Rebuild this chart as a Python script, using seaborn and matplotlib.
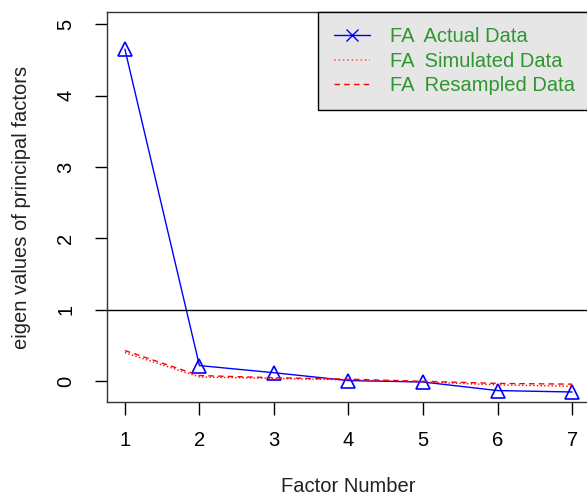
import pandas
import seaborn as sns
import matplotlib.pyplot as plt
from matplotlib.lines import Line2D

# Values.
factor_number = [1, 2, 3, 4, 5, 6, 7]
fa_actual = [4.65, 0.22, 0.12, 0.01, -0.01, -0.13, -0.15]
fa_simulated = [0.40, 0.06, 0.04, 0.02, -0.01, -0.05, -0.07]
fa_resampled = [0.43, 0.08, 0.05, 0.03, 0.00, -0.03, -0.04]
legend_labels = ['FA  Actual Data', 'FA  Simulated Data', 'FA  Resampled Data']

df = pandas.DataFrame({
    'factor': factor_number,
    'actual': fa_actual,
    'simulated': fa_simulated,
    'resampled': fa_resampled
})

sns.set_theme(style = 'white')
plt.rcParams['font.family'] = ['Liberation Sans', 'DejaVu Sans']
plt.rcParams.update({
    'axes.edgecolor': 'black',
    'xtick.color': 'black',
    'ytick.color': 'black',
    'text.color': 'black',
    'axes.labelcolor': '#222222'
})

fig = plt.figure(figsize = (5.87, 4.99), dpi = 100)
ax = fig.add_axes([107 / 587, 1 - 402 / 499, 483 / 587, 390 / 499])

# Actual eigen values with open triangles.
sns.lineplot(
    data = df, x = 'factor', y = 'actual', ax = ax,
    color = 'blue', linewidth = 1, marker = '^', markersize = 10,
    markerfacecolor = 'none', markeredgecolor = 'blue', markeredgewidth = 1.2
)
sns.lineplot(data = df, x = 'factor', y = 'simulated', ax = ax,
             color = 'red', linewidth = 1, linestyle = ':')
sns.lineplot(data = df, x = 'factor', y = 'resampled', ax = ax,
             color = 'red', linewidth = 1, linestyle = (0, (4, 3)))

ax.axhline(1, color = 'black', linewidth = 1)

ax.set_xlim(0.76, 7.24)
ax.set_ylim(-0.29, 5.17)
ax.set_xticks(factor_number)
ax.set_yticks([0, 1, 2, 3, 4, 5])
ax.tick_params(axis = 'both', direction = 'out', length = 9, width = 1,
               labelsize = 14.5, left = True, bottom = True)
ax.tick_params(axis = 'x', pad = 12)
ax.tick_params(axis = 'y', pad = 14)
for label in ax.get_yticklabels():
    label.set_rotation(90)
    label.set_va('center')
for spine in ax.spines.values():
    spine.set_linewidth(1)
    spine.set_color('#333333')

ax.set_xlabel('Factor Number', fontsize = 14.5, labelpad = 19)
ax.set_ylabel('eigen values of principal factors', fontsize = 14.5, labelpad = 18)

# Legend built the way R draws it: marker 'x' for the actual data.
handles = [
    Line2D([], [], color = 'blue', linewidth = 1, marker = 'x', markersize = 8),
    Line2D([], [], color = '#ff6666', linewidth = 1.2, linestyle = ':'),
    Line2D([], [], color = 'red', linewidth = 1, linestyle = (0, (4, 3)))
]
leg = ax.legend(
    handles, legend_labels, loc = 'upper right', bbox_to_anchor = (1, 1),
    borderaxespad = 0, fontsize = 14.5, frameon = True, fancybox = False,
    handlelength = 1.8, handletextpad = 1.0, labelspacing = 0.28, borderpad = 0.75,
    labelcolor = '#2f962f'
)
leg.get_frame().set_facecolor('#e6e6e6')
leg.get_frame().set_edgecolor('black')
leg.get_frame().set_linewidth(1)
leg.get_frame().set_alpha(1)

plt.savefig('out.png', dpi = 100)
